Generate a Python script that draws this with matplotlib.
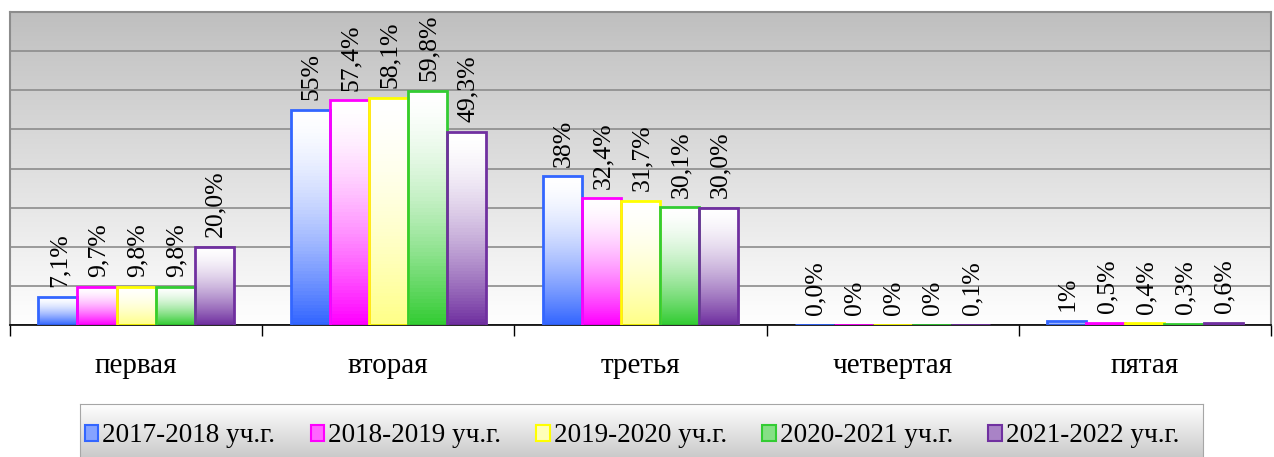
import matplotlib.pyplot as plt
import numpy as np
from matplotlib.colors import to_rgb
from matplotlib.patches import Rectangle

categories = ['первая', 'вторая', 'третья', 'четвертая', 'пятая']
series_names = ['2017-2018 уч.г.', '2018-2019 уч.г.', '2019-2020 уч.г.',
                '2020-2021 уч.г.', '2021-2022 уч.г.']
values = [
    [7.1, 55.0, 38.0, 0.0, 1.0],
    [9.7, 57.4, 32.4, 0.0, 0.5],
    [9.8, 58.1, 31.7, 0.0, 0.4],
    [9.8, 59.8, 30.1, 0.0, 0.3],
    [20.0, 49.3, 30.0, 0.1, 0.6],
]
labels = [
    ['7,1%', '55%', '38%', '0,0%', '1%'],
    ['9,7%', '57,4%', '32,4%', '0%', '0,5%'],
    ['9,8%', '58,1%', '31,7%', '0%', '0,4%'],
    ['9,8%', '59,8%', '30,1%', '0%', '0,3%'],
    ['20,0%', '49,3%', '30,0%', '0,1%', '0,6%'],
]
colors = ['#3366ff', '#ff00ff', '#ffff00', '#33cc33', '#7030a0']
fill_ends = ['#3366ff', '#ff00ff', '#ffff88', '#33cc33', '#7030a0']

plt.rcParams['font.family'] = ['Liberation Serif', 'DejaVu Serif']

W, H = 1274, 457
fig = plt.figure(figsize=(W / 100, H / 100), dpi=100)
ax = fig.add_axes([10 / W, (H - 325) / H, 1261 / W, 313 / H])


def gradient(c, top=(1, 1, 1), n=64, power=1.0):
    """Vertical ramp from top colour (row 0) to colour c (last row)."""
    c = np.array(to_rgb(c))
    t = np.linspace(0, 1, n)[:, None] ** power
    return (np.array(top) * (1 - t) + c * t)[:, None, :]


# plot area background: grey at top fading to white
bg = gradient('#ffffff', top=to_rgb('#bfbfbf'))
ax.imshow(bg, extent=[0, 1, 0, 1], transform=ax.transAxes, aspect='auto', zorder=0)

ymax = 80
ax.set_yticks(np.arange(0, ymax + 1, 10))
ax.yaxis.grid(True, color='#8c8c8c', lw=1.2, zorder=1)
ax.set_axisbelow(True)

x = np.arange(len(categories))
w = 0.155
for j, (vals, lab, col, end) in enumerate(zip(values, labels, colors, fill_ends)):
    pos = x + (j - 2) * w
    bars = ax.bar(pos, vals, w, facecolor='none', edgecolor=col, lw=2, zorder=3)
    for b, v, t in zip(bars, vals, lab):
        if v > 0:
            img = ax.imshow(gradient(end, power=1.6),
                            extent=[b.get_x(), b.get_x() + w, 0, v],
                            aspect='auto', zorder=2)
            img.set_clip_path(b)
        ax.annotate(t, (b.get_x() + w / 2, v), xytext=(1, 7), textcoords='offset points',
                    rotation=90, ha='center', va='bottom', fontsize=18.5)

ax.set_xlim(-0.5, len(categories) - 0.5)
ax.set_ylim(0, ymax)
ax.set_xticks(np.append(x - 0.5, x[-1] + 0.5))
ax.set_xticklabels([])
ax.set_xticks(x, minor=True)
ax.set_xticklabels(categories, minor=True, fontsize=21)
ax.tick_params(axis='x', which='major', length=8, width=1, color='black')
ax.tick_params(axis='x', which='minor', length=0, pad=20)
ax.tick_params(axis='y', length=0, labelleft=False)
for s in ['left', 'top', 'right']:
    ax.spines[s].set_color('#8c8c8c')
    ax.spines[s].set_linewidth(1.5)
ax.spines['bottom'].set_color('black')
ax.spines['bottom'].set_linewidth(1.2)

# legend box with grey gradient
lax = fig.add_axes([80 / W, -10 / H, 1123 / W, 63 / H])
lax.imshow(gradient('#c0c0c0', top=(1, 1, 1)), extent=[0, 1, 0, 1], aspect='auto')
lax.set_xlim(0, 1)
lax.set_ylim(0, 1)
lax.set_xticks([])
lax.set_yticks([])
for s in lax.spines.values():
    s.set_color('#a6a6a6')

handles = [Rectangle((0, 0), 1, 1, facecolor=np.array(to_rgb(e)) * 0.6 + 0.4,
                     edgecolor=c, lw=1.5) for c, e in zip(colors, fill_ends)]
fig.legend(handles, series_names, loc='center', bbox_to_anchor=(632 / W, (H - 436) / H),
           ncol=5, frameon=False, fontsize=19.5, handlelength=0.5, handleheight=0.5,
           handletextpad=0.15, columnspacing=1.3)

fig.savefig('out.png', dpi=100)
